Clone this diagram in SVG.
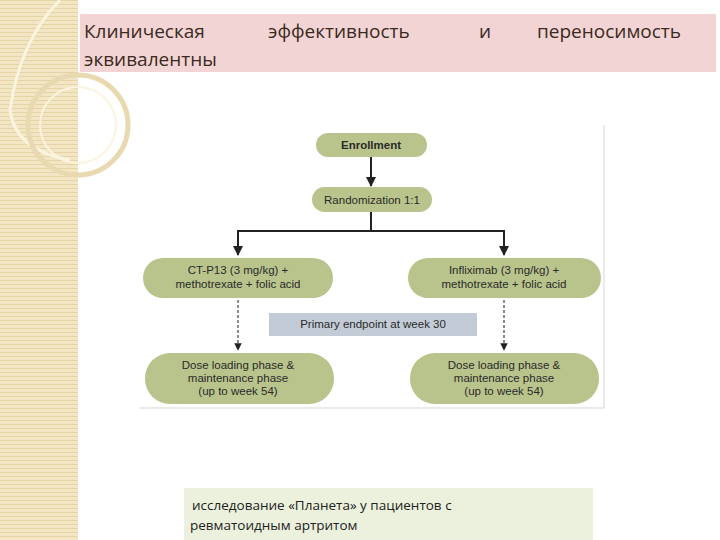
<svg xmlns="http://www.w3.org/2000/svg" width="720" height="540" viewBox="0 0 720 540">
<defs>
<pattern id="stripe" width="4" height="4" patternUnits="userSpaceOnUse"><rect width="4" height="4" fill="#f3e6c4"/><rect width="4" height="1" fill="#e6d3a6"/></pattern>
<marker id="ah" viewBox="0 0 10 10" refX="9" refY="5" markerWidth="5" markerHeight="5" orient="auto"><path d="M0,0 L10,5 L0,10 z" fill="#222"/></marker>
</defs>
<style>
.pill{fill:#b9c48c}
.t{font-family:"Liberation Sans",Arial,sans-serif;font-size:11.5px;fill:#2a2a2a;text-anchor:middle}
.ln{stroke:#222;stroke-width:2;fill:none}
.dl{stroke:#666;stroke-width:1.5;fill:none;stroke-dasharray:3,2}
.h{font-family:"Open Sans","DejaVu Sans",sans-serif;font-size:19px;fill:#3a2a20}
</style>
<rect width="720" height="540" fill="#fff"/>
<rect x="0" y="0" width="78" height="540" fill="url(#stripe)"/>
<path d="M60,0 Q20,40 10,110 Q15,150 70,160" stroke="#fbf4de" stroke-width="3" fill="none"/>
<circle cx="78" cy="125" r="50" stroke="#e8d9b0" stroke-width="5" fill="none"/>
<circle cx="78" cy="125" r="38" stroke="#fbf4de" stroke-width="2" fill="none"/>
<rect x="80" y="14" width="636" height="58" fill="#f3d4d4"/>
<text class="h" x="84" y="38">Клиническая</text>
<text class="h" x="268" y="38">эффективность</text>
<text class="h" x="479" y="38">и</text>
<text class="h" x="537" y="38">переносимость</text>
<text class="h" x="84" y="66">эквивалентны</text>
<path d="M140,408 H604 V125" stroke="#e4e4e4" stroke-width="1.5" fill="none"/>
<g id="connectors">
<path class="ln" d="M371,157 V186" marker-end="url(#ah)"/>
<path class="ln" d="M371,212 V231 M238,231 H504"/>
<path class="ln" d="M238,230 V255" marker-end="url(#ah)"/>
<path class="ln" d="M504,230 V255" marker-end="url(#ah)"/>
<path class="dl" d="M238,300 V350" marker-end="url(#ah)"/>
<path class="dl" d="M504,300 V350" marker-end="url(#ah)"/>
</g>
<g id="enroll"><rect class="pill" x="316" y="133" width="111" height="24" rx="12"/><text class="t" x="371" y="149" font-weight="bold">Enrollment</text></g>
<g id="random"><rect class="pill" x="312" y="187" width="120" height="25" rx="12.5"/><text class="t" x="372" y="204">Randomization 1:1</text></g>
<g id="ctp13"><rect class="pill" x="143" y="258" width="190" height="40" rx="20"/><text class="t" x="238" y="274">CT-P13 (3 mg/kg) +</text><text class="t" x="238" y="288">methotrexate + folic acid</text></g>
<g id="infl"><rect class="pill" x="408" y="258" width="193" height="40" rx="20"/><text class="t" x="504" y="274">Infliximab (3 mg/kg) +</text><text class="t" x="504" y="288">methotrexate + folic acid</text></g>
<g id="primary"><rect x="269" y="313" width="208" height="23" fill="#c3ccd6"/><text class="t" x="373" y="328">Primary endpoint at week 30</text></g>
<g id="doseL"><rect class="pill" x="145" y="353" width="189" height="51" rx="25"/><text class="t" x="238" y="369">Dose loading phase &amp;</text><text class="t" x="238" y="382">maintenance phase</text><text class="t" x="238" y="395">(up to week 54)</text></g>
<g id="doseR"><rect class="pill" x="410" y="353" width="189" height="51" rx="25"/><text class="t" x="504" y="369">Dose loading phase &amp;</text><text class="t" x="504" y="382">maintenance phase</text><text class="t" x="504" y="395">(up to week 54)</text></g>
<g id="caption"><rect x="184" y="488" width="409" height="52" fill="#ebf1dc"/>
<text font-family="'Open Sans','DejaVu Sans',sans-serif" font-size="13.5" fill="#222" x="192" y="510">исследование «Планета» у пациентов с</text>
<text font-family="'Open Sans','DejaVu Sans',sans-serif" font-size="13.5" fill="#222" x="190" y="530">ревматоидным артритом</text></g>
</svg>
